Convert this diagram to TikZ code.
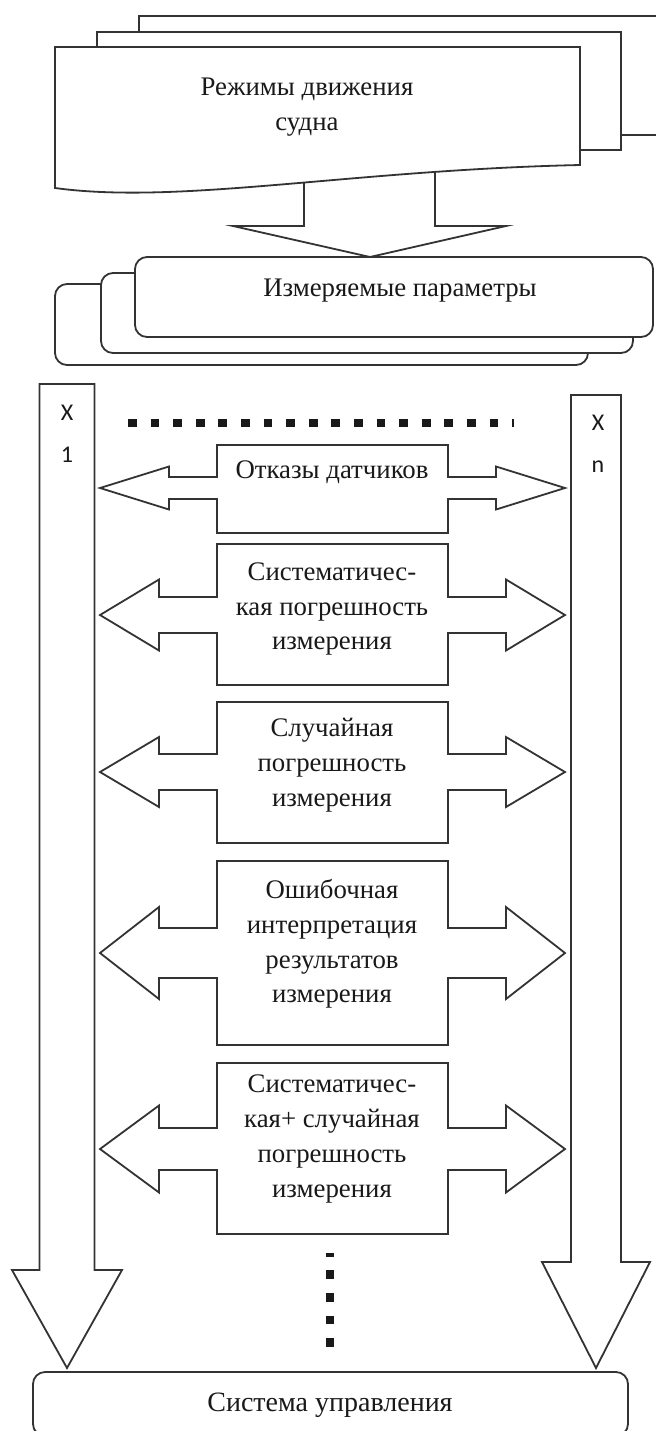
\documentclass[tikz,border=0pt]{standalone}
\usepackage{fontspec}
\setmainfont{Liberation Serif}
\newfontfamily\labelfont{Carlito}
\usetikzlibrary{positioning}

\begin{document}
\begin{tikzpicture}[x=0.5pt,y=-0.5pt,line width=0.9pt,
  sheet/.style={draw=black!80,fill=white},
  card/.style={draw=black!80,fill=white,rounded corners=6pt},
  block arrow/.style={draw=black!80,fill=white,line join=miter},
  main text/.style={font=\fontsize{13.4}{17.4}\selectfont,align=center,text=black!90},
  x label/.style={font=\labelfont\fontsize{12}{14}\selectfont,text=black!90},
  dots/.style={line width=4.4pt,dash pattern=on 4.4pt off 6.9pt,black!90}]
  \useasboundingbox (0,0) rectangle (656,1431);
  \clip (0,0) rectangle (656,1431);
  \draw[sheet] (139,16) rectangle (700,135);
  \draw[sheet] (97,32) rectangle (621,150);
  \draw[block arrow] (304,170) -- (304,226) -- (233,226) -- (370,257) -- (506,226) -- (435,226) -- (435,170);
  \draw[sheet] (55,47) -- (580,47) -- (580,165) .. controls (350,170) and (180,205) .. (55,188) -- cycle;
  \node[main text] (modes) at (307,107) {Режимы движения\\судна};

  \draw[card] (55,284) rectangle (588,365);
  \draw[card] (101,273) rectangle (633,353);
  \draw[card] (135,257) rectangle (653,337);
  \node[main text] (params) at (400,291) {Измеряемые параметры};

  \draw[block arrow] (39.5,384) -- (94.5,384) -- (94.5,1270) -- (122,1270) -- (67,1368) -- (12,1270) -- (39.5,1270) -- cycle;
  \draw[block arrow] (571,395) -- (621,395) -- (621,1262) -- (650,1262) -- (596,1368) -- (542,1262) -- (571,1262) -- cycle;
  \node[x label] (x1) at (67,413) {X};
  \node[x label] (i1) at (67,455) {1};
  \node[x label] (xn) at (598,423) {X};
  \node[x label] (in) at (598,467) {n};

  \draw[dots] (128,423) -- (514,423);

  \foreach \c/\s/\h/\b/\t/\d in {488/11/21.5/169/445/533, 615/18/35.5/159/544/685,
      772/18/35/159/702/843, 953/25/46/159/861/1045, 1149/21/43.5/159/1063/1234}
    \draw[block arrow] (217,\t) -- (448,\t) -- (448,{\c-\s}) -- ({665-\b},{\c-\s})
      -- ({665-\b},{\c-\h}) -- (565,\c) -- ({665-\b},{\c+\h}) -- ({665-\b},{\c+\s})
      -- (448,{\c+\s}) -- (448,\d) -- (217,\d) -- (217,{\c+\s}) -- (\b,{\c+\s})
      -- (\b,{\c+\h}) -- (100,\c) -- (\b,{\c-\h}) -- (\b,{\c-\s}) -- (217,{\c-\s}) -- cycle;
  \node[main text] (fail) at (332,472) {Отказы датчиков};
  \node[main text] (syst) at (332,609) {Систематичес-\\кая погрешность\\измерения};
  \node[main text] (rand) at (332,765) {Случайная\\погрешность\\измерения};
  \node[main text] (interp) at (332,944) {Ошибочная\\интерпретация\\результатов\\измерения};
  \node[main text] (mixed) at (332,1139) {Систематичес-\\кая+ случайная\\погрешность\\измерения};

  \draw[dots] (330,1347) -- (330,1253);

  \draw[card] (33,1372) rectangle (628,1436);
  \node[main text,font=\fontsize{14}{17}\selectfont] (control) at (330,1405) {Система управления};
\end{tikzpicture}
\end{document}
